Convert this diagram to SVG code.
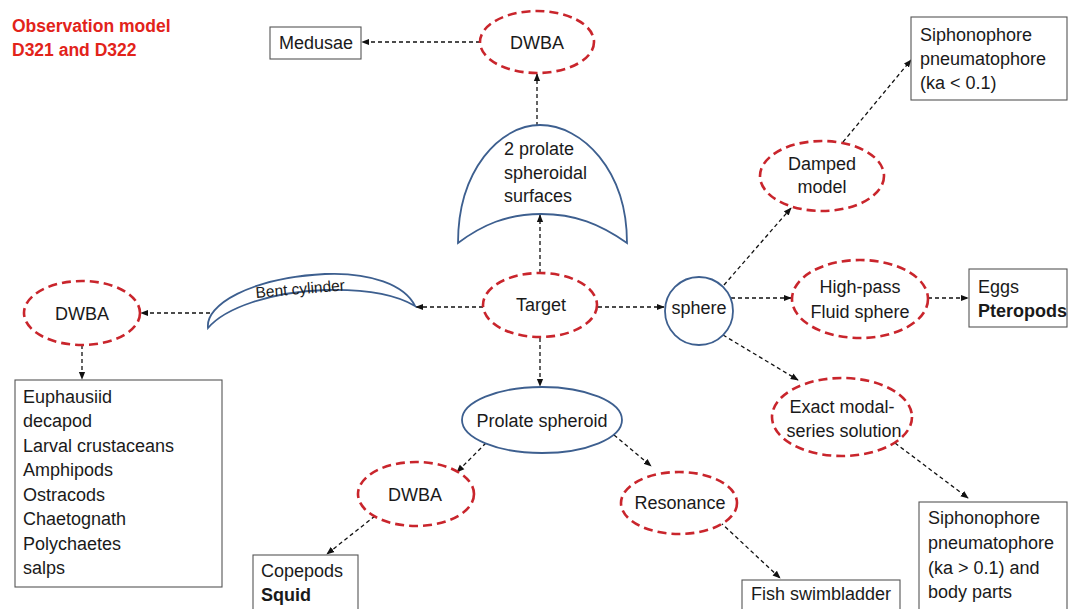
<svg xmlns="http://www.w3.org/2000/svg" width="1072" height="609" viewBox="0 0 1072 609">
<defs>
<marker id="ah" viewBox="0 0 10 10" refX="9" refY="5" markerWidth="8" markerHeight="8" markerUnits="userSpaceOnUse" orient="auto"><path d="M0,1 L10,5 L0,9 z" fill="#111"/></marker>
<style>
.t{font-family:"Liberation Sans",Arial,sans-serif;font-size:18px;fill:#1a1a1a}
.b{font-weight:bold}
.m{text-anchor:middle}
.red{fill:#fff;stroke:#c9252c;stroke-width:2.6;stroke-dasharray:9 5}
.blue{fill:#fff;stroke:#3d5f8f;stroke-width:1.8}
.box{fill:#fff;stroke:#555;stroke-width:1.1}
.c{fill:none;stroke:#111;stroke-width:1.3;stroke-dasharray:4 3;marker-end:url(#ah)}
.title{font-family:"Liberation Sans",Arial,sans-serif;font-size:17.5px;font-weight:bold;fill:#e2231a}
</style>
</defs>
<rect width="1072" height="609" fill="#fff"/>
<g id="title">
<text class="title" x="12" y="32">Observation model</text>
<text class="title" x="12" y="56">D321 and D322</text>
</g>
<g id="connectors">
<line class="c" x1="480" y1="42" x2="362" y2="42"/>
<line class="c" x1="537" y1="126" x2="537" y2="74"/>
<line class="c" x1="540" y1="273" x2="540" y2="215"/>
<line class="c" x1="483" y1="307" x2="416" y2="307"/>
<line class="c" x1="210" y1="313" x2="141" y2="313"/>
<line class="c" x1="82" y1="345" x2="82" y2="379"/>
<line class="c" x1="598" y1="307" x2="664" y2="307"/>
<line class="c" x1="540" y1="338" x2="540" y2="386"/>
<line class="c" x1="486" y1="443" x2="457" y2="472"/>
<line class="c" x1="614" y1="435" x2="651" y2="466"/>
<line class="c" x1="375" y1="516" x2="327" y2="554"/>
<line class="c" x1="720" y1="522" x2="780" y2="578"/>
<line class="c" x1="724" y1="285" x2="791" y2="208"/>
<line class="c" x1="843" y1="142" x2="911" y2="60"/>
<line class="c" x1="731" y1="298" x2="791" y2="298"/>
<line class="c" x1="928" y1="298" x2="968" y2="298"/>
<line class="c" x1="723" y1="335" x2="798" y2="380"/>
<line class="c" x1="895" y1="443" x2="968" y2="498"/>
</g>
<g id="medusae">
<rect class="box" x="270" y="27" width="91" height="32"/>
<text class="t" x="279" y="49">Medusae</text>
</g>
<g id="dwba-top">
<ellipse class="red" cx="537" cy="42" rx="57" ry="31"/>
<text class="t m" x="537" y="49">DWBA</text>
</g>
<g id="prolate-surfaces">
<path class="blue" d="M458,243 C458,170 500,125 540,125 C582,125 627,170 627,243 C600,224 575,214 541,214 C507,214 482,225 458,243 Z"/>
<text class="t" x="504" y="155">2 prolate</text>
<text class="t" x="504" y="179">spheroidal</text>
<text class="t" x="504" y="202">surfaces</text>
</g>
<g id="target">
<ellipse class="red" cx="540" cy="305" rx="57" ry="32"/>
<text class="t m" x="541" y="311">Target</text>
</g>
<g id="bent-cylinder">
<path class="blue" d="M208,328 C205,305 250,278 325,274 C370,272 405,285 415,306 C395,294 365,289 325,290 C270,292 225,308 208,328 Z"/>
<text class="t" x="256" y="298" style="font-size:15.5px" transform="rotate(-5 256 298)">Bent cylinder</text>
</g>
<g id="dwba-left">
<ellipse class="red" cx="82" cy="313" rx="58" ry="32"/>
<text class="t m" x="82" y="320">DWBA</text>
</g>
<g id="crustaceans">
<rect class="box" x="15" y="380" width="207" height="207"/>
<text class="t" x="23" y="403">Euphausiid</text>
<text class="t" x="23" y="427">decapod</text>
<text class="t" x="23" y="452">Larval crustaceans</text>
<text class="t" x="23" y="476">Amphipods</text>
<text class="t" x="23" y="501">Ostracods</text>
<text class="t" x="23" y="525">Chaetognath</text>
<text class="t" x="23" y="550">Polychaetes</text>
<text class="t" x="23" y="574">salps</text>
</g>
<g id="sphere">
<circle class="blue" cx="699" cy="311" r="34"/>
<text class="t m" x="699" y="314">sphere</text>
</g>
<g id="prolate-spheroid">
<ellipse class="blue" cx="542" cy="420" rx="80" ry="33"/>
<text class="t m" x="542" y="427">Prolate spheroid</text>
</g>
<g id="dwba-mid">
<ellipse class="red" cx="416" cy="494" rx="58" ry="32"/>
<text class="t m" x="415" y="501">DWBA</text>
</g>
<g id="resonance">
<ellipse class="red" cx="679" cy="503" rx="58" ry="31"/>
<text class="t m" x="680" y="509">Resonance</text>
</g>
<g id="copepods">
<rect class="box" x="253" y="555" width="105" height="70"/>
<text class="t" x="261" y="577">Copepods</text>
<text class="t b" x="261" y="601">Squid</text>
</g>
<g id="fish">
<rect class="box" x="742" y="580" width="158" height="45"/>
<text class="t" x="751" y="600">Fish swimbladder</text>
</g>
<g id="damped">
<ellipse class="red" cx="822" cy="176" rx="62" ry="35"/>
<text class="t m" x="822" y="170">Damped</text>
<text class="t m" x="822" y="193">model</text>
</g>
<g id="siph-top">
<rect class="box" x="911" y="17" width="156" height="83"/>
<text class="t" x="920" y="41">Siphonophore</text>
<text class="t" x="920" y="65">pneumatophore</text>
<text class="t" x="920" y="89">(ka &lt; 0.1)</text>
</g>
<g id="highpass">
<ellipse class="red" cx="860" cy="299" rx="68" ry="39"/>
<text class="t m" x="860" y="293">High-pass</text>
<text class="t m" x="860" y="318">Fluid sphere</text>
</g>
<g id="eggs">
<rect class="box" x="969" y="269" width="98" height="58"/>
<text class="t" x="978" y="293">Eggs</text>
<text class="t b" x="978" y="317">Pteropods</text>
</g>
<g id="exact">
<ellipse class="red" cx="842" cy="417" rx="70" ry="39"/>
<text class="t m" x="842" y="413">Exact modal-</text>
<text class="t m" x="844" y="437">series solution</text>
</g>
<g id="siph-bottom">
<rect class="box" x="919" y="502" width="148" height="120"/>
<text class="t" x="928" y="524">Siphonophore</text>
<text class="t" x="928" y="549">pneumatophore</text>
<text class="t" x="928" y="574">(ka &gt; 0.1) and</text>
<text class="t" x="928" y="598">body parts</text>
</g>
</svg>
